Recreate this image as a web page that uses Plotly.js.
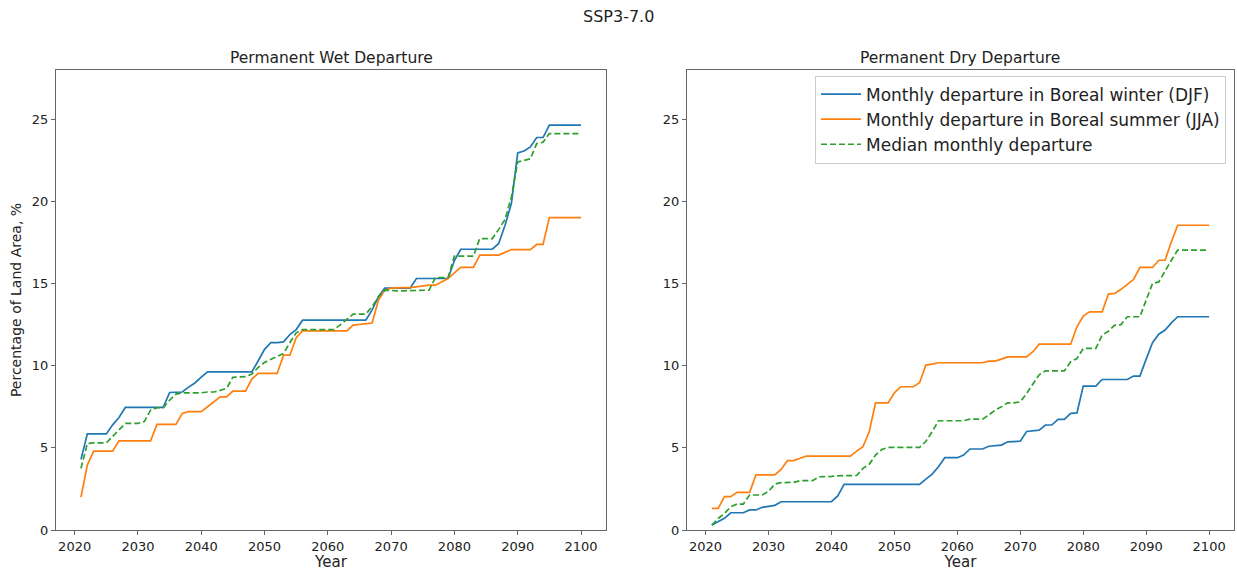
<!DOCTYPE html>
<html>
<head>
<meta charset="utf-8">
<script src="https://cdn.plot.ly/plotly-3.0.1.min.js"></script>
<style>html,body{margin:0;padding:0;background:#fff;}#chart{width:1237px;height:571px;}</style>
</head>
<body>
<div id="chart"></div>
<script>
// Years 2021..2100
const years = [];
for (let y = 2021; y <= 2100; y++) years.push(y);

// Permanent Wet Departure
const wetDJF = [
 4.3,5.85,5.85,5.85,5.85,6.4,6.85,7.46,7.46,7.46,
 7.46,7.46,7.46,7.46,8.37,8.37,8.4,8.7,8.95,9.3,
 9.63,9.63,9.63,9.63,9.63,9.63,9.63,9.63,10.3,11.0,
 11.4,11.4,11.45,11.9,12.2,12.77,12.77,12.77,12.77,12.77,
 12.77,12.77,12.77,12.77,12.77,12.77,13.4,14.2,14.72,14.72,
 14.72,14.72,14.72,15.31,15.31,15.31,15.31,15.31,15.31,16.4,
 17.09,17.09,17.09,17.09,17.09,17.09,17.44,18.55,19.87,22.95,
 23.07,23.32,23.89,23.89,24.64,24.64,24.64,24.64,24.64,24.64
];
const wetJJA = [
 2.0,3.95,4.8,4.8,4.8,4.8,5.43,5.43,5.43,5.43,
 5.43,5.43,6.43,6.43,6.43,6.43,7.1,7.2,7.2,7.2,
 7.5,7.8,8.1,8.1,8.45,8.45,8.45,9.2,9.53,9.53,
 9.53,9.53,10.64,10.64,11.7,12.12,12.12,12.12,12.12,12.12,
 12.12,12.12,12.12,12.47,12.5,12.55,12.6,14.0,14.6,14.72,
 14.75,14.75,14.75,14.8,14.85,14.9,14.9,15.1,15.31,15.65,
 15.98,15.98,15.98,16.73,16.73,16.73,16.73,16.9,17.07,17.07,
 17.07,17.07,17.38,17.38,19.02,19.02,19.02,19.02,19.02,19.02
];
const wetMedian = [
 3.75,5.27,5.3,5.3,5.3,5.7,6.1,6.49,6.49,6.49,
 6.6,7.3,7.44,7.44,7.9,8.27,8.35,8.35,8.35,8.35,
 8.4,8.4,8.5,8.62,9.3,9.33,9.33,9.5,9.9,10.2,
 10.4,10.6,10.75,11.4,12.0,12.2,12.2,12.2,12.2,12.2,
 12.2,12.5,12.8,13.14,13.14,13.14,13.6,14.2,14.6,14.56,
 14.56,14.56,14.56,14.56,14.56,14.6,15.37,15.37,15.37,16.67,
 16.67,16.67,16.67,17.74,17.74,17.74,18.3,18.9,20.27,22.4,
 22.5,22.6,23.52,23.6,24.13,24.13,24.13,24.13,24.13,24.13
];

// Permanent Dry Departure
const dryDJF = [
 0.3,0.5,0.71,1.05,1.05,1.05,1.22,1.22,1.38,1.45,
 1.5,1.72,1.72,1.72,1.72,1.72,1.72,1.72,1.72,1.72,
 2.07,2.78,2.78,2.78,2.78,2.78,2.78,2.78,2.78,2.78,
 2.78,2.78,2.78,2.78,3.1,3.4,3.85,4.4,4.4,4.4,
 4.56,4.93,4.93,4.93,5.1,5.15,5.17,5.37,5.37,5.4,
 6.0,6.04,6.08,6.39,6.39,6.73,6.73,7.1,7.13,8.76,
 8.76,8.76,9.16,9.16,9.16,9.16,9.16,9.37,9.37,10.4,
 11.4,11.92,12.17,12.61,12.98,12.98,12.98,12.98,12.98,12.98
];
const dryJJA = [
 1.32,1.32,2.03,2.03,2.29,2.29,2.29,3.35,3.35,3.35,
 3.35,3.69,4.22,4.22,4.35,4.5,4.5,4.5,4.5,4.5,
 4.5,4.5,4.5,4.8,5.07,5.98,7.74,7.74,7.74,8.35,
 8.72,8.72,8.72,8.96,10.04,10.1,10.18,10.18,10.18,10.18,
 10.18,10.18,10.18,10.18,10.28,10.28,10.4,10.54,10.54,10.54,
 10.54,10.85,11.31,11.31,11.31,11.31,11.31,11.31,12.37,13.02,
 13.28,13.28,13.28,14.36,14.4,14.65,14.95,15.25,15.98,15.98,
 15.98,16.42,16.42,17.54,18.55,18.55,18.55,18.55,18.55,18.55
];
const dryMedian = [
 0.3,0.7,1.0,1.42,1.58,1.58,2.13,2.13,2.13,2.35,
 2.8,2.88,2.88,2.9,3.0,3.0,3.0,3.24,3.24,3.26,
 3.3,3.3,3.3,3.32,3.75,4.0,4.56,4.9,5.03,5.03,
 5.03,5.03,5.03,5.03,5.4,5.98,6.65,6.65,6.65,6.65,
 6.65,6.75,6.75,6.75,7.0,7.3,7.5,7.74,7.74,7.8,
 8.31,8.9,9.45,9.69,9.69,9.69,9.69,10.24,10.44,11.05,
 11.05,11.05,11.86,12.1,12.47,12.5,12.98,12.98,12.98,14.0,
 15.0,15.1,15.8,16.42,17.03,17.03,17.03,17.03,17.03,17.03
];

const seriesNames = [
 'Monthly departure in Boreal winter (DJF)',
 'Monthly departure in Boreal summer (JJA)',
 'Median monthly departure'
];
const panelTitles = ['Permanent Wet Departure', 'Permanent Dry Departure'];
const suptitle = 'SSP3-7.0';
const xTicks = [2020,2030,2040,2050,2060,2070,2080,2090,2100];
const yTicks = [0,5,10,15,20,25];

const BLUE = '#1f77b4', ORANGE = '#ff7f0e', GREEN = '#2ca02c';
const FONT = 'DejaVu Sans, sans-serif';

function tr(y, name, color, dash, xa, ya, show) {
  return {x: years, y: y, type: 'scatter', mode: 'lines', name: name,
    xaxis: xa, yaxis: ya, showlegend: show,
    line: {color: color, width: 1.7, dash: dash}};
}

const data = [
  tr(wetDJF, seriesNames[0], BLUE, 'solid', 'x', 'y', false),
  tr(wetJJA, seriesNames[1], ORANGE, 'solid', 'x', 'y', false),
  tr(wetMedian, seriesNames[2], GREEN, '6px,3px', 'x', 'y', false),
  tr(dryDJF, seriesNames[0], BLUE, 'solid', 'x2', 'y2', true),
  tr(dryJJA, seriesNames[1], ORANGE, 'solid', 'x2', 'y2', true),
  tr(dryMedian, seriesNames[2], GREEN, '6px,3px', 'x2', 'y2', true)
];

const W = 1237;
const axCommon = {
  showline: true, mirror: true, linecolor: '#666', linewidth: 1,
  ticks: 'outside', ticklen: 4, tickcolor: '#666', tickwidth: 1,
  showgrid: false, zeroline: false,
  tickfont: {family: FONT, size: 13, color: '#222'}
};
function xax(domain, anchor) {
  return Object.assign({}, axCommon, {
    domain: domain, anchor: anchor, range: [2017.05, 2103.95],
    tickmode: 'array', tickvals: xTicks, ticktext: xTicks.map(String),
    title: {text: 'Year', font: {family: FONT, size: 15, color: '#222'}, standoff: 6}
  });
}
function yax(anchor, withTitle) {
  const o = Object.assign({}, axCommon, {
    domain: [0, 1], anchor: anchor, range: [0, 28],
    tickmode: 'array', tickvals: yTicks, ticktext: yTicks.map(String)
  });
  if (withTitle) o.title = {text: 'Percentage of Land Area, %', font: {family: FONT, size: 14, color: '#222'}, standoff: 6};
  return o;
}

const layout = {
  width: 1237, height: 571,
  margin: {l: 0, r: 0, t: 70, b: 41},
  paper_bgcolor: '#fff', plot_bgcolor: '#fff',
  font: {family: FONT, color: '#222'},
  showlegend: true,
  xaxis: xax([56 / W, 606 / W], 'y'),
  yaxis: yax('x', true),
  xaxis2: xax([687 / W, 1234 / W], 'y2'),
  yaxis2: yax('x2', false),
  legend: {
    x: 815 / W, y: 0.988, xanchor: 'left', yanchor: 'top',
    bgcolor: 'rgba(255,255,255,0.8)', bordercolor: '#ccc', borderwidth: 1,
    font: {family: FONT, size: 17, color: '#222'},
    itemwidth: 40, tracegroupgap: 0
  },
  annotations: [
    {text: panelTitles[0], xref: 'paper', yref: 'paper', x: 331 / W, y: 1, yshift: 1,
     xanchor: 'center', yanchor: 'bottom', showarrow: false,
     font: {family: FONT, size: 15.5, color: '#222'}},
    {text: panelTitles[1], xref: 'paper', yref: 'paper', x: 960 / W, y: 1, yshift: 1,
     xanchor: 'center', yanchor: 'bottom', showarrow: false,
     font: {family: FONT, size: 15.5, color: '#222'}},
    {text: suptitle, xref: 'paper', yref: 'paper', x: 0.5, y: 1, yshift: 42,
     xanchor: 'center', yanchor: 'bottom', showarrow: false,
     font: {family: FONT, size: 16, color: '#222'}}
  ]
};

Plotly.newPlot('chart', data, layout, {displayModeBar: false, staticPlot: true});
</script>
</body>
</html>
